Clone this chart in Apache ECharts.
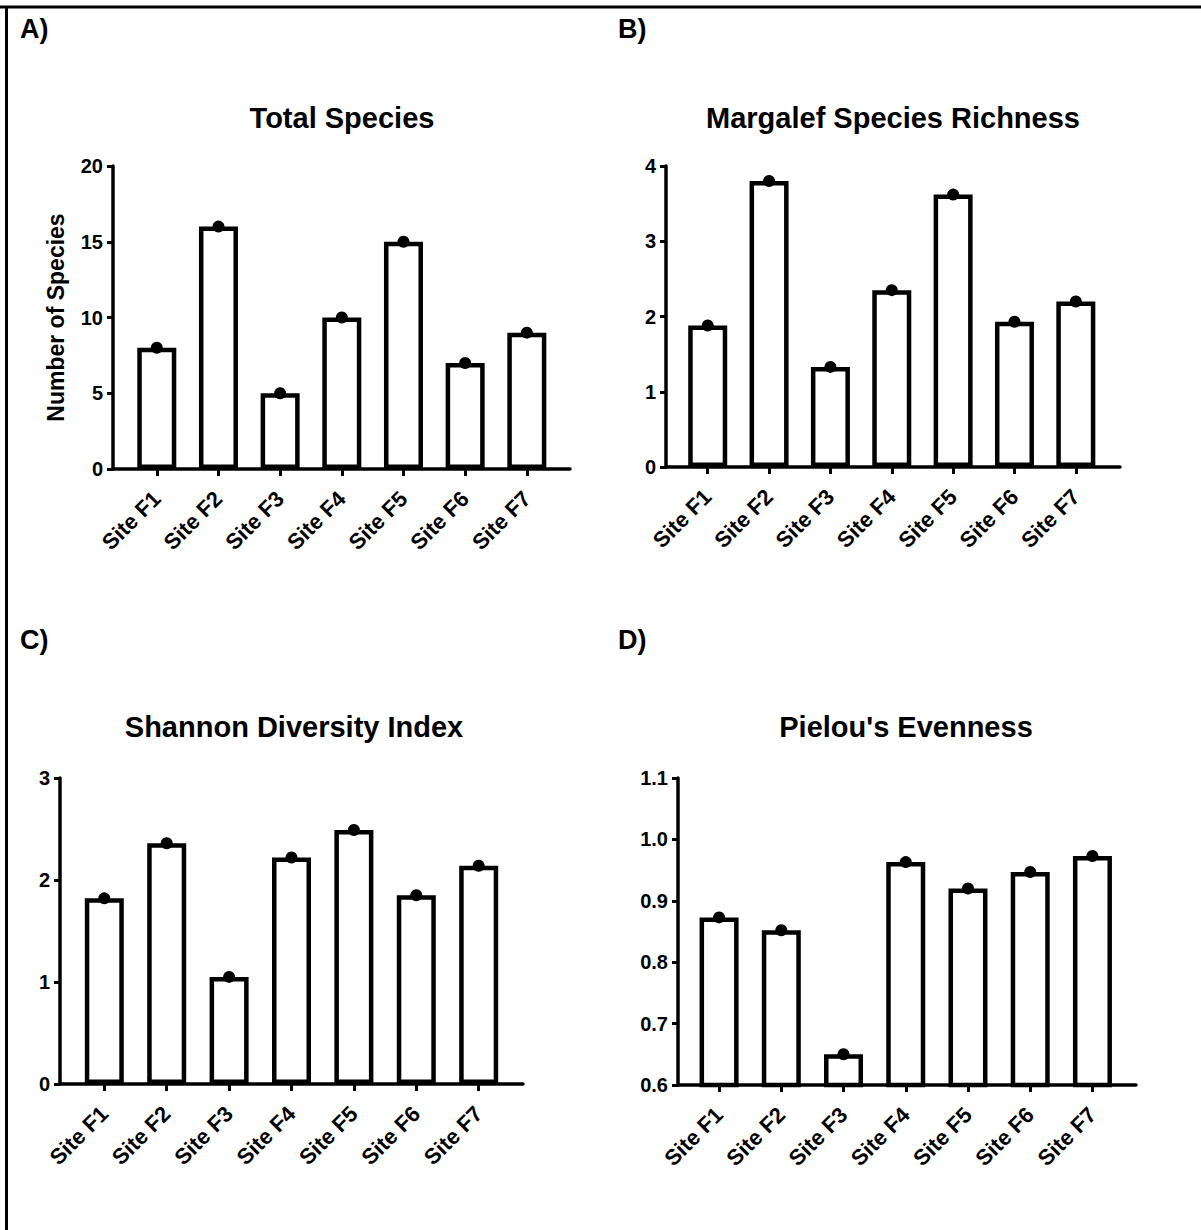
<!DOCTYPE html>
<html>
<head>
<meta charset="utf-8">
<script src="https://cdn.jsdelivr.net/npm/echarts@6.0.0/dist/echarts.min.js"></script>
<style>
html,body{margin:0;padding:0;background:#fff;}
#chart{width:1201px;height:1230px;}
</style>
</head>
<body>
<div id="chart"></div>
<script>
// ---- data ----
const sites = ['Site F1', 'Site F2', 'Site F3', 'Site F4', 'Site F5', 'Site F6', 'Site F7'];
const totalSpecies = [8, 16, 5, 10, 15, 7, 9];
const margalefRichness = [1.88, 3.80, 1.33, 2.35, 3.62, 1.93, 2.20];
const shannonIndex = [1.82, 2.36, 1.05, 2.22, 2.49, 1.85, 2.14];
const pielouEvenness = [0.873, 0.852, 0.650, 0.963, 0.920, 0.947, 0.973];

const panelLetters = ['A)', 'B)', 'C)', 'D)'];
const panelTitles = ['Total Species', 'Margalef Species Richness', 'Shannon Diversity Index', "Pielou's Evenness"];
const yAxisNames = ['Number of Species', '', '', ''];
const yMins = [0, 0, 0, 0.6];
const yMaxs = [20, 4, 3, 1.1];
const yIntervals = [5, 1, 1, 0.1];
const yDecimals = [0, 0, 0, 1];

// ---- layout ----
const FONT = '"Liberation Sans", Arial, Helvetica, sans-serif';
const grids = [
  {left: 113, top: 166, width: 457, height: 303},
  {left: 666, top: 166, width: 454, height: 301},
  {left: 60, top: 778, width: 463, height: 306},
  {left: 678, top: 778, width: 458, height: 307}
];
const xRanges = [[-0.71, 6.70], [-0.68, 6.72], [-0.71, 6.71], [-0.66, 6.70]];
const titlePos = [[342, 118], [893, 118], [294, 727], [906, 727]];
const letterPos = [[20, 29], [618, 29], [20, 640], [618, 640]];
const datasets = [totalSpecies, margalefRichness, shannonIndex, pielouEvenness];
const idx = sites.map((s, i) => i);

const xAxes = grids.map((g, k) => ({
  type: 'value', gridIndex: k,
  min: xRanges[k][0], max: xRanges[k][1],
  axisLine: {show: true, onZero: false, lineStyle: {color: '#000', width: 3.5}},
  axisTick: {show: true, customValues: idx, length: 7, lineStyle: {color: '#000', width: 3}},
  axisLabel: {
    show: true, customValues: idx, rotate: 45, margin: 26,
    formatter: v => sites[Math.round(v)],
    color: '#000', fontWeight: 'bold', fontSize: 22, fontFamily: FONT
  },
  splitLine: {show: false}
}));

const yAxes = grids.map((g, k) => ({
  type: 'value', gridIndex: k,
  min: yMins[k], max: yMaxs[k], interval: yIntervals[k],
  name: yAxisNames[k], nameLocation: 'middle', nameGap: 46,
  nameTextStyle: {color: '#000', fontWeight: 'bold', fontSize: 23, fontFamily: FONT},
  axisLine: {show: true, onZero: false, lineStyle: {color: '#000', width: 3.5}},
  axisTick: {show: true, length: 6, lineStyle: {color: '#000', width: 3}},
  axisLabel: {
    color: '#000', fontWeight: 'bold', fontSize: 20, fontFamily: FONT, margin: 10,
    formatter: v => Number(v).toFixed(yDecimals[k])
  },
  splitLine: {show: false}
}));

const series = [];
datasets.forEach((vals, k) => {
  series.push({
    type: 'bar', xAxisIndex: k, yAxisIndex: k,
    data: vals.map((v, i) => [i, v]),
    barWidth: 39,
    itemStyle: {color: '#fff', borderColor: '#000', borderWidth: 4.5},
    emphasis: {disabled: true},
    silent: true, z: 2
  });
  series.push({
    type: 'scatter', xAxisIndex: k, yAxisIndex: k,
    data: vals.map((v, i) => [i, v]),
    symbol: 'circle', symbolSize: 12,
    itemStyle: {color: '#000', opacity: 1},
    emphasis: {disabled: true},
    silent: true, z: 3
  });
});

const graphic = [
  {type: 'line', shape: {x1: 0, y1: 7, x2: 1201, y2: 7}, style: {stroke: '#000', lineWidth: 3}},
  {type: 'line', shape: {x1: 6.5, y1: 7, x2: 6.5, y2: 1230}, style: {stroke: '#000', lineWidth: 3}}
];
panelTitles.forEach((t, k) => {
  graphic.push({
    type: 'text', x: titlePos[k][0], y: titlePos[k][1],
    style: {text: t, fill: '#000', font: 'bold 29px ' + FONT, textAlign: 'center', textVerticalAlign: 'middle'}
  });
});
panelLetters.forEach((t, k) => {
  graphic.push({
    type: 'text', x: letterPos[k][0], y: letterPos[k][1],
    style: {text: t, fill: '#000', font: 'bold 27px ' + FONT, textAlign: 'left', textVerticalAlign: 'middle'}
  });
});

const chart = echarts.init(document.getElementById('chart'), null, {renderer: 'svg'});
chart.setOption({
  animation: false,
  backgroundColor: '#fff',
  grid: grids.map(g => Object.assign({containLabel: false}, g)),
  xAxis: xAxes,
  yAxis: yAxes,
  series: series,
  graphic: graphic
});
</script>
</body>
</html>
